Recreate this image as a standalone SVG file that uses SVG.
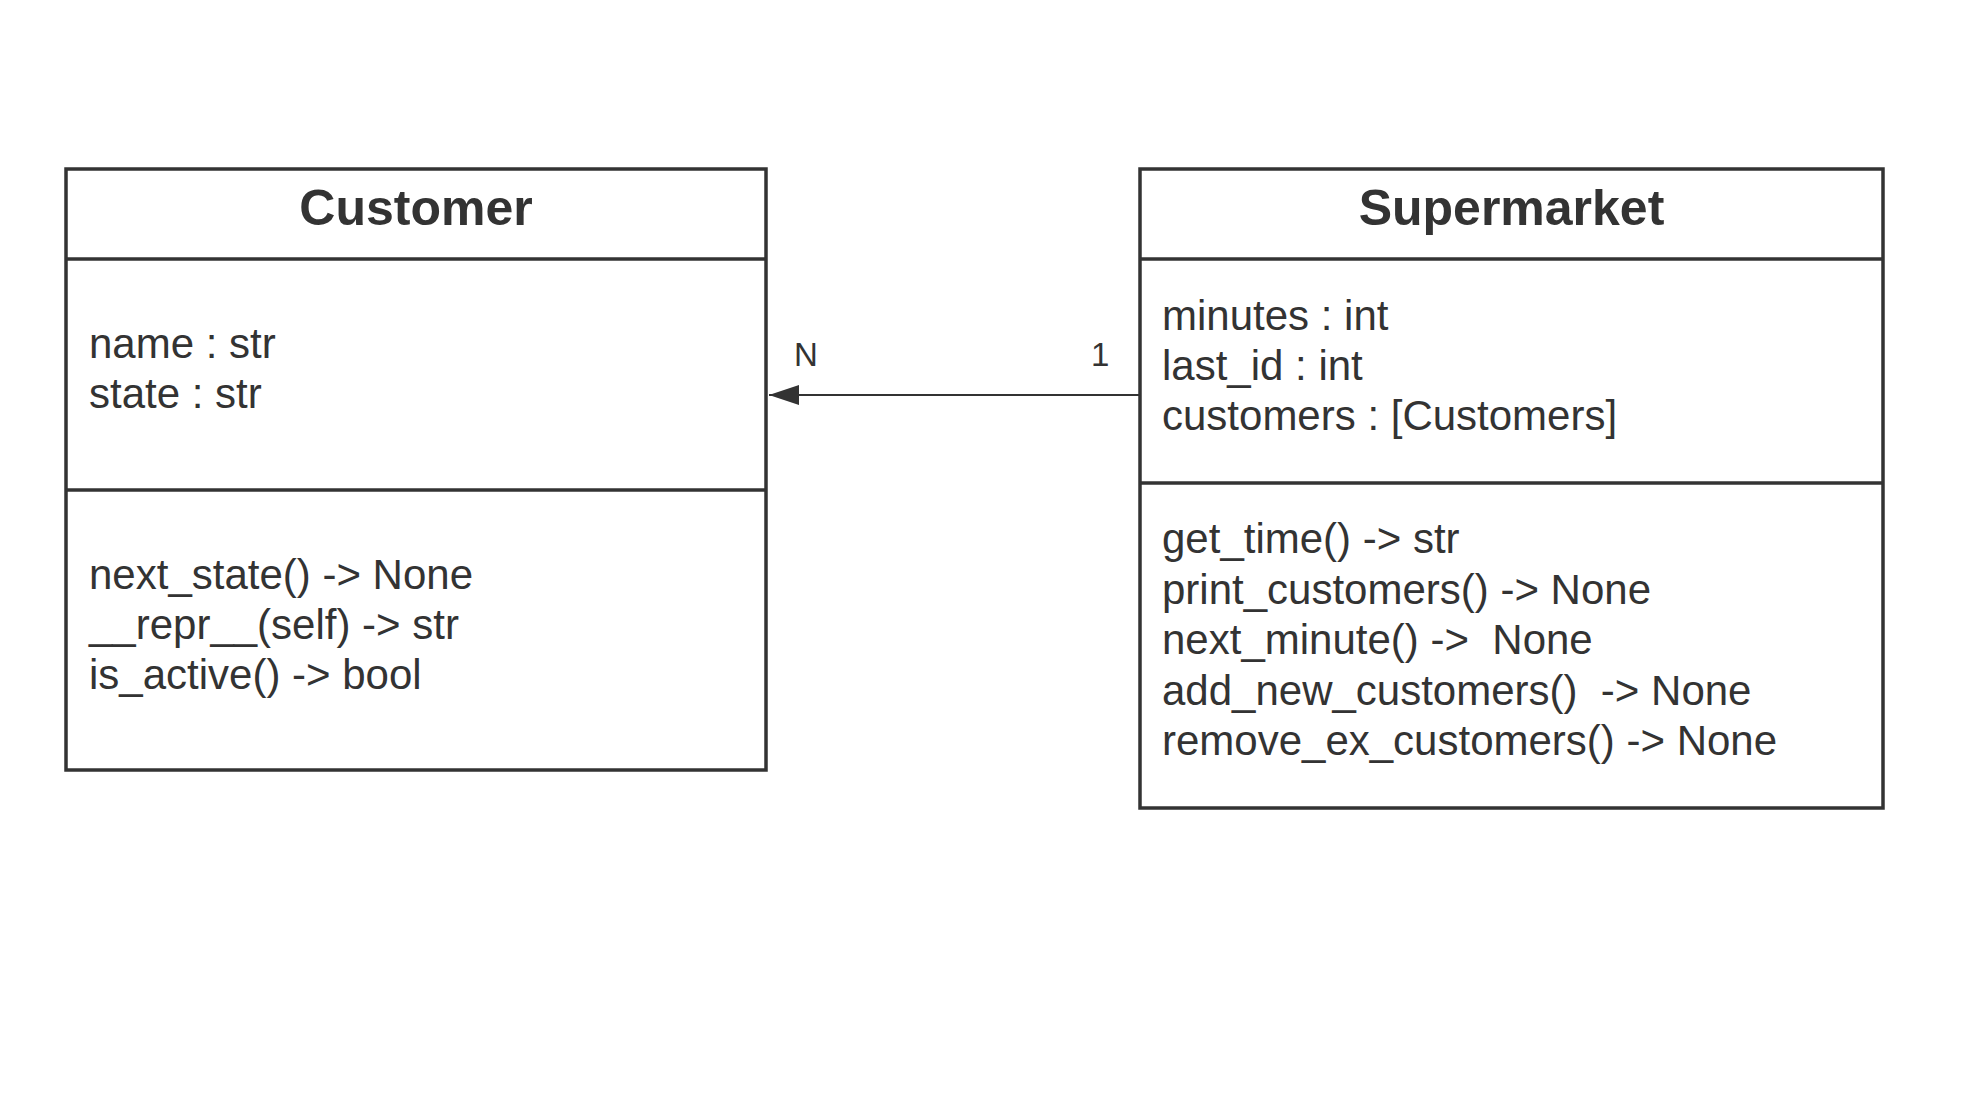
<svg xmlns="http://www.w3.org/2000/svg" width="1966" height="1105" viewBox="0 0 1966 1105">
<defs>
<style>
.box{fill:#fff;stroke:#333;stroke-width:3.5}
.div{stroke:#333;stroke-width:3.5}
.title{font-family:"Liberation Sans",Arial,sans-serif;font-weight:bold;font-size:50px;fill:#333;text-anchor:middle}
.txt{font-family:"Liberation Sans",Arial,sans-serif;font-size:42px;fill:#333}
.lbl{font-family:"Liberation Sans",Arial,sans-serif;font-size:33px;fill:#333}
.conn{stroke:#333;stroke-width:2;fill:none}
</style>
<marker id="arrow" markerUnits="userSpaceOnUse" markerWidth="32" markerHeight="24" refX="30" refY="10" orient="auto">
<path d="M0,0 L30,10 L0,20 Z" fill="#333"/>
</marker>
</defs>
<rect width="1966" height="1105" fill="#fff"/>
<g id="customer">
<rect class="box" x="66" y="169" width="700" height="601"/>
<line class="div" x1="66" y1="259" x2="766" y2="259"/>
<line class="div" x1="66" y1="490" x2="766" y2="490"/>
<text class="title" x="416" y="225">Customer</text>
<text class="txt" x="89" y="358">name : str</text>
<text class="txt" x="89" y="408">state : str</text>
<text class="txt" x="89" y="589">next_state() -&gt; None</text>
<text class="txt" x="89" y="639">__repr__(self) -&gt; str</text>
<text class="txt" x="89" y="689">is_active() -&gt; bool</text>
</g>
<g id="supermarket">
<rect class="box" x="1140" y="169" width="743" height="639"/>
<line class="div" x1="1140" y1="259" x2="1883" y2="259"/>
<line class="div" x1="1140" y1="483" x2="1883" y2="483"/>
<text class="title" x="1511.5" y="225">Supermarket</text>
<text class="txt" x="1162" y="330">minutes : int</text>
<text class="txt" x="1162" y="380">last_id : int</text>
<text class="txt" x="1162" y="430">customers : [Customers]</text>
<text class="txt" x="1162" y="553">get_time() -&gt; str</text>
<text class="txt" x="1162" y="604" xml:space="preserve">print_customers() -&gt; None</text>
<text class="txt" x="1162" y="654" xml:space="preserve">next_minute() -&gt;  None</text>
<text class="txt" x="1162" y="705" xml:space="preserve">add_new_customers()  -&gt; None</text>
<text class="txt" x="1162" y="755">remove_ex_customers() -&gt; None</text>
</g>
<g id="connectors">
<line class="conn" x1="1140" y1="395" x2="769" y2="395" marker-end="url(#arrow)"/>
<text class="lbl" x="794" y="366">N</text>
<text class="lbl" x="1091" y="366">1</text>
</g>
</svg>
